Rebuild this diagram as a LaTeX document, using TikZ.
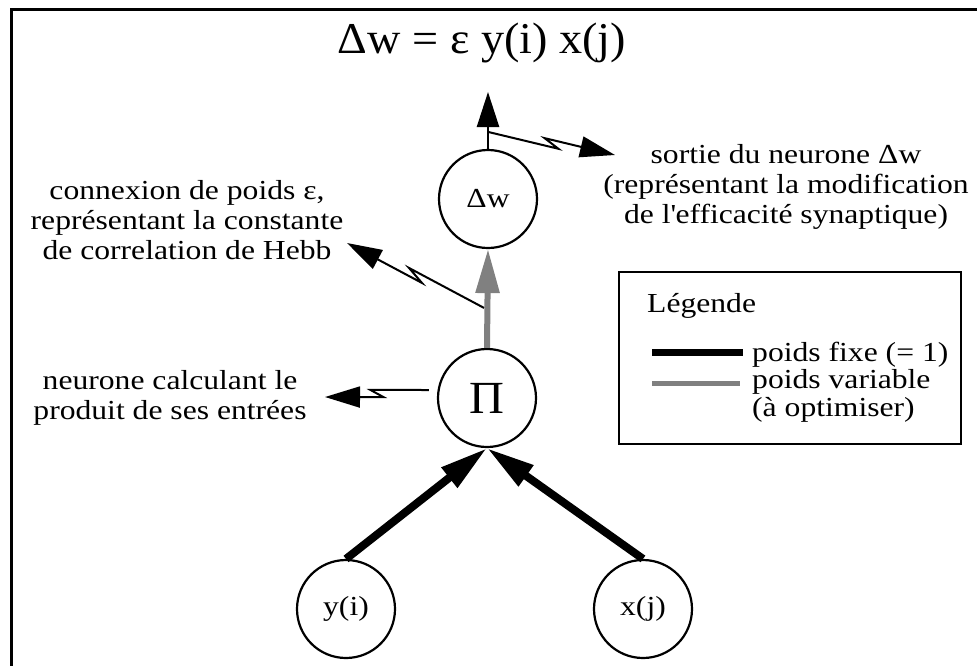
\documentclass[tikz,border=0pt]{standalone}
\usepackage{fontspec}
\setmainfont{Liberation Serif}[FakeStretch=1.15]
\newfontfamily\titre{Liberation Serif}[FakeStretch=1.05]
\usetikzlibrary{arrows.meta,calc}

\begin{document}
\begin{tikzpicture}[x=1pt,y=-1pt,
  txt/.style={font=\fontsize{27.5}{30}\selectfont,align=center,inner sep=0pt},
  neurone/.style={draw,circle,line width=2.2pt,minimum size=98pt,inner sep=0pt,font=\fontsize{27.5}{30}\selectfont},
  lienfixe/.style={line width=8pt,-{Triangle[length=48pt,width=24pt]}},
  lienvar/.style={line width=6pt,black!50,-{Triangle[length=44pt,width=23pt]}},
  eclair/.style={line width=2pt,-{Triangle[length=35pt,width=21pt]},
    to path={-- ($(\tikztostart)!0.56!(\tikztotarget)!4pt!-90:(\tikztotarget)$) -- ($(\tikztostart)!0.44!(\tikztotarget)!4pt!90:(\tikztotarget)$) -- (\tikztotarget)}}]
\useasboundingbox (0,0) rectangle (977,665);
\draw[line width=3pt] (11,9) rectangle (995,690);
\node[txt,font=\titre\fontsize{44}{48}\selectfont,anchor=base] (regle) at (482,53) {Δw = ε y(i) x(j)};
\node[neurone] (dw) at (488,199) {Δw};
\node[neurone,font=\titre\fontsize{46}{48}\selectfont] (pi) at (487,398) {Π};
\node[neurone] (yi) at (346,609) {y(i)};
\node[neurone] (xj) at (643,609) {x(j)};
\draw[lienfixe] (yi.north) -- (pi.south);
\draw[lienfixe] (xj.north) -- (pi.south);
\draw[lienvar] (pi.north) -- (dw.south);
\coordinate (haut) at (488,92);
\draw[line width=2.5pt,-{Triangle[length=35pt,width=22pt]}] (dw.north) -- (haut);
\coordinate (s1) at ($(dw.north)+(0,-17)$); \coordinate (e1) at (615,155);
\draw[eclair] (s1) to (e1);
\coordinate (s2) at ($(pi.north)+(-3,-40)$); \coordinate (e2) at (347,243);
\draw[eclair] (s2) to (e2);
\coordinate (s3) at ($(pi.west)+(-8,-8)$); \coordinate (e3) at (325,397);
\draw[eclair] (s3) to (e3);
\node[txt,anchor=base] (sortie) at (786,223) {sortie du neurone Δw\\(représentant la modification\\de l\textquotesingle efficacité synaptique)};
\node[txt,anchor=base] (hebb) at (187,259) {connexion de poids ε,\\représentant la constante\\de correlation de Hebb};
\node[txt,anchor=base] (produit) at (170,419) {neurone calculant le\\produit de ses entrées};
\draw[line width=2.3pt] (619,272) rectangle (961,444);
\node[txt,anchor=base west] (leg) at (647,312) {Légende};
\draw[line width=7pt] (652,352) -- (743,352);
\draw[line width=5pt,black!50] (652,383) -- (740,383);
\node[txt,anchor=base west,align=left,font=\fontsize{27.5}{27.5}\selectfont] (poids) at (752,416) {poids fixe (= 1)\\poids variable\\(à optimiser)};
\end{tikzpicture}
\end{document}
